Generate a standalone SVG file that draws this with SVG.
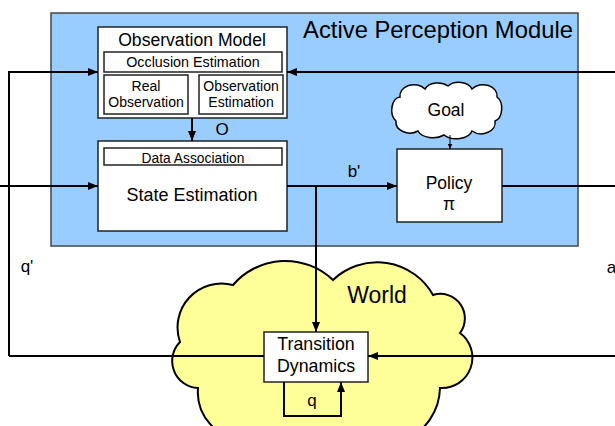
<svg xmlns="http://www.w3.org/2000/svg" width="615" height="426" viewBox="0 0 615 426">
<defs>
<style>
text{font-family:"Liberation Sans",Arial,sans-serif;fill:#000;text-anchor:middle}
.box{fill:#fff;stroke:#222;stroke-width:1.5}
.ln{fill:none;stroke:#000;stroke-width:2}
</style>
<marker id="ah" viewBox="0 0 10 10" refX="10" refY="5" markerWidth="5" markerHeight="4" markerUnits="strokeWidth" orient="auto" preserveAspectRatio="none"><path d="M0,0L10,5L0,10z" fill="#000"/></marker>
<marker id="ahs" viewBox="0 0 10 10" refX="10" refY="5" markerWidth="5.5" markerHeight="5" markerUnits="strokeWidth" orient="auto" preserveAspectRatio="none"><path d="M0,0L10,5L0,10z" fill="#000"/></marker>
</defs>
<g id="world">
<path d="M198 388 A27 27 0 0 1 180 342 A44 44 0 0 1 233 285 A69 69 0 0 1 333 280 A64 64 0 0 1 433 295 A24.5 24.5 0 0 1 460 333 A30.5 30.5 0 0 1 440 388 A58 58 0 0 1 405 440 L245 440 A48 48 0 0 1 198 388 Z" fill="#FFFF99" stroke="#000" stroke-width="2"/>
<text x="377" y="303" font-size="23">World</text>
</g>
<g id="apm">
<rect x="51" y="13" width="527" height="233" fill="#99CCFF" stroke="#444" stroke-width="1.5"/>
<text x="438" y="38" font-size="23.8">Active Perception Module</text>
</g>
<g id="observation-model">
<rect class="box" x="98" y="27" width="189" height="91"/>
<text x="192" y="45.5" font-size="17.6">Observation Model</text>
<rect class="box" x="104" y="52" width="178" height="20"/>
<text x="193" y="67" font-size="14.3">Occlusion Estimation</text>
<rect class="box" x="104" y="75" width="84" height="39"/>
<text x="146" y="91" font-size="14">Real</text>
<text x="146" y="107" font-size="14">Observation</text>
<rect class="box" x="199" y="75" width="84" height="39"/>
<text x="241" y="91" font-size="14">Observation</text>
<text x="241" y="107" font-size="14">Estimation</text>
</g>
<g id="state-estimation">
<rect class="box" x="98" y="141" width="189" height="90"/>
<rect class="box" x="104" y="148" width="178" height="17"/>
<text x="193" y="162.7" font-size="13.8">Data Association</text>
<text x="192" y="201" font-size="18">State Estimation</text>
</g>
<g id="goal">
<path d="M400 97 A14 11 0 0 1 425 89 A14 10 0 0 1 448 86 A14 10 0 0 1 472 89 A14 11 0 0 1 497 97 A9 13 0 0 1 495 121 A14 11 0 0 1 472 131 A16 10 0 0 1 444 135 A16 10 0 0 1 418 131 A14 11 0 0 1 396 121 A9 13 0 0 1 400 97 Z" fill="#fff" stroke="#000" stroke-width="1.5"/>
<text x="446" y="116" font-size="17.5">Goal</text>
</g>
<g id="policy">
<rect class="box" x="397" y="149" width="105" height="73"/>
<text x="449" y="189" font-size="17.5">Policy</text>
<text x="449" y="210" font-size="17.5">π</text>
</g>
<g id="transition-dynamics">
<rect class="box" x="264" y="332" width="104" height="50"/>
<text x="316" y="350" font-size="17.8">Transition</text>
<text x="316" y="371.5" font-size="17.8">Dynamics</text>
</g>
<g id="connectors">
<path class="ln" d="M192 118V141" marker-end="url(#ah)"/>
<path class="ln" d="M9 356V72H98" marker-end="url(#ah)"/>
<path class="ln" d="M264 356H9"/>
<path class="ln" d="M0 186H98" marker-end="url(#ah)"/>
<path class="ln" d="M615 72H287" marker-end="url(#ah)"/>
<path class="ln" d="M287 186H397" marker-end="url(#ah)"/>
<path class="ln" d="M316 186V332" marker-end="url(#ah)"/>
<path class="ln" d="M502 186H615"/>
<path class="ln" d="M615 356H368" marker-end="url(#ah)"/>
<path class="ln" d="M284 382V416H341V382" marker-end="url(#ah)"/>
<path d="M450 135V149" fill="none" stroke="#000" stroke-width="1" marker-end="url(#ahs)"/>
</g>
<g id="labels">
<text x="222" y="135" font-size="17">O</text>
<text x="354" y="177" font-size="17">b'</text>
<text x="27" y="272" font-size="17">q'</text>
<text x="611.5" y="273" font-size="17">a</text>
<text x="312" y="406" font-size="17">q</text>
</g>
</svg>
